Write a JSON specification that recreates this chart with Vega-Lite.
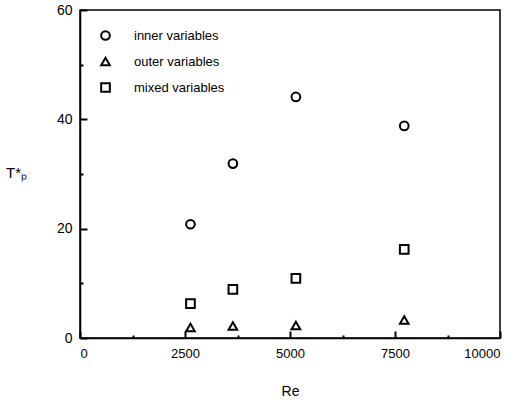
{
  "$schema": "https://vega.github.io/schema/vega-lite/v6.json",
  "width": 420,
  "height": 328,
  "autosize": {"type": "none"},
  "padding": {"left": 80, "top": 10, "right": 26, "bottom": 65},
  "background": "white",
  "config": {
    "font": "Liberation Sans",
    "view": {"stroke": "black", "strokeWidth": 1.5},
    "axis": {
      "grid": false,
      "zindex": 1,
      "domainColor": "black",
      "domainWidth": 1.5,
      "tickColor": "black",
      "tickWidth": 2,
      "labelColor": "black",
      "labelFont": "Liberation Sans",
      "labelFontSize": 13,
      "titleFont": "Liberation Sans",
      "titleFontWeight": "normal",
      "titleColor": "black"
    }
  },
  "data": {
    "values": [
      {"Re": 2630, "T": 20.8, "series": "inner variables"},
      {"Re": 3640, "T": 31.9, "series": "inner variables"},
      {"Re": 5140, "T": 44.1, "series": "inner variables"},
      {"Re": 7720, "T": 38.8, "series": "inner variables"},
      {"Re": 2630, "T": 1.9, "series": "outer variables"},
      {"Re": 3640, "T": 2.2, "series": "outer variables"},
      {"Re": 5140, "T": 2.3, "series": "outer variables"},
      {"Re": 7720, "T": 3.3, "series": "outer variables"},
      {"Re": 2630, "T": 6.3, "series": "mixed variables"},
      {"Re": 3640, "T": 8.9, "series": "mixed variables"},
      {"Re": 5140, "T": 10.9, "series": "mixed variables"},
      {"Re": 7720, "T": 16.2, "series": "mixed variables"}
    ]
  },
  "resolve": {"axis": {"x": "independent", "y": "independent"}},
  "layer": [
    {
      "mark": {"type": "point", "filled": false, "size": 75, "strokeWidth": 2, "color": "black", "opacity": 1},
      "encoding": {
        "x": {
          "field": "Re", "type": "quantitative",
          "scale": {"domain": [0, 10000], "nice": false, "zero": true},
          "axis": {
            "orient": "bottom",
            "values": [0, 2500, 5000, 7500, 10000],
            "format": "d",
            "tickSize": -7,
            "labelPadding": 16,
            "title": "Re",
            "titleFontSize": 14,
            "titlePadding": 24
          }
        },
        "y": {
          "field": "T", "type": "quantitative",
          "scale": {"domain": [0, 60], "nice": false},
          "axis": {
            "orient": "left",
            "values": [0, 20, 40, 60],
            "tickSize": -7,
            "labelPadding": 15,
            "labelFontSize": 14,
            "title": "T*ₚ",
            "titleAngle": 0,
            "titleFontSize": 15,
            "titleAlign": "center",
            "titleBaseline": "middle",
            "titleX": -64,
            "titleY": 162
          }
        },
        "shape": {
          "field": "series", "type": "nominal",
          "scale": {
            "domain": ["inner variables", "outer variables", "mixed variables"],
            "range": ["circle", "triangle-up", "square"]
          },
          "legend": {
            "title": null,
            "orient": "top-left",
            "offset": 19,
            "labelFontSize": 13,
            "labelColor": "black",
            "labelOffset": 22,
            "rowPadding": 9,
            "symbolSize": 75,
            "symbolStrokeWidth": 2,
            "symbolStrokeColor": "black",
            "symbolOpacity": 1,
            "symbolFillColor": "transparent"
          }
        }
      }
    },
    {
      "mark": {"type": "point", "opacity": 0},
      "encoding": {
        "x": {
          "field": "Re", "type": "quantitative",
          "axis": {
            "orient": "bottom",
            "values": [1250, 3750, 6250, 8750],
            "tickSize": -3,
            "labels": false,
            "domain": false,
            "title": null
          }
        },
        "y": {
          "field": "T", "type": "quantitative",
          "axis": {
            "orient": "left",
            "values": [10, 30, 50],
            "tickSize": -3,
            "labels": false,
            "domain": false,
            "title": null
          }
        }
      }
    }
  ]
}
